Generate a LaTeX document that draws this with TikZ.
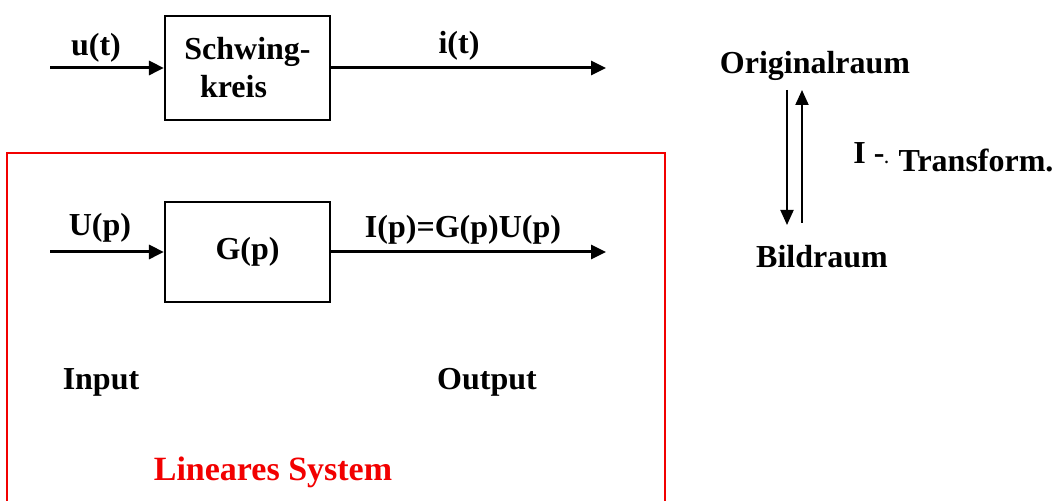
\documentclass[tikz,border=0pt]{standalone}
\usepackage{fontspec}
\setmainfont{Liberation Serif}
\usetikzlibrary{arrows.meta,positioning}
\colorlet{RedSystem}{red!95!black}

\begin{document}
\begin{tikzpicture}[
  x=0.5pt, y=-0.5pt,
  block/.style={draw, line width=1.1pt, minimum width=82.5pt, minimum height=52pt, inner sep=0pt, font=\fontsize{16}{19}\selectfont\bfseries, align=center},
  label/.style={font=\fontsize{16}{19}\selectfont\bfseries, inner sep=0pt},
  signal/.style={line width=1.5pt, -{Triangle[length=7.5pt, width=7pt]}},
  transarrow/.style={line width=1pt, -{Triangle[length=7.5pt, width=6.5pt]}},
  systembox/.style={draw=RedSystem, line width=0.9pt}
]
\useasboundingbox (0,0) rectangle (1055,501);

% Time domain: oscillating circuit
\node[block] (schwing) at (247.5,68) {Schwing-\\kreis\hspace*{14pt}};
\coordinate (uin) at (50,68);
\coordinate (iout) at (606,68);
\draw[signal] (uin) -- (schwing.west);
\draw[signal] (schwing.east) -- (iout);
\node[label] (ut) at (96,48) {u(t)};
\node[label] (it) at (459,46) {i(t)};

% Image domain: linear system (open at the bottom)
\draw[systembox] (7,502) -- (7,153) -- (665,153) -- (665,502);
\node[block, minimum height=50pt] (gp) at (247.5,252) {\raisebox{3pt}{G(p)}};
\coordinate (Uin) at (50,252);
\coordinate (Iout) at (606,252);
\draw[signal] (Uin) -- (gp.west);
\draw[signal] (gp.east) -- (Iout);
\node[label] (Up) at (100,228) {U(p)};
\node[label] (Ip) at (463,230) {I(p)=G(p)U(p)};
\node[label] (input) at (101,382) {Input};
\node[label] (output) at (487,382) {Output};
\node[label, text=RedSystem, font=\fontsize{17}{20}\selectfont\bfseries] (lin) at (273,472) {Lineares System};

% Transformation between the two spaces
\node[label] (orig) at (815,66) {Originalraum};
\node[label] (bild) at (822,257) {Bildraum};
\coordinate (down0) at (787,90);
\coordinate (down1) at (787,225);
\coordinate (up0) at (802,223);
\coordinate (up1) at (802,90);
\draw[transarrow] (down0) -- (down1);
\draw[transarrow] (up0) -- (up1);
\node[label] (trI) at (871,153) {I -{\fontsize{8}{8}\selectfont.}};
\node[label] (trname) at (976,160) {Transform.};

\end{tikzpicture}
\end{document}
